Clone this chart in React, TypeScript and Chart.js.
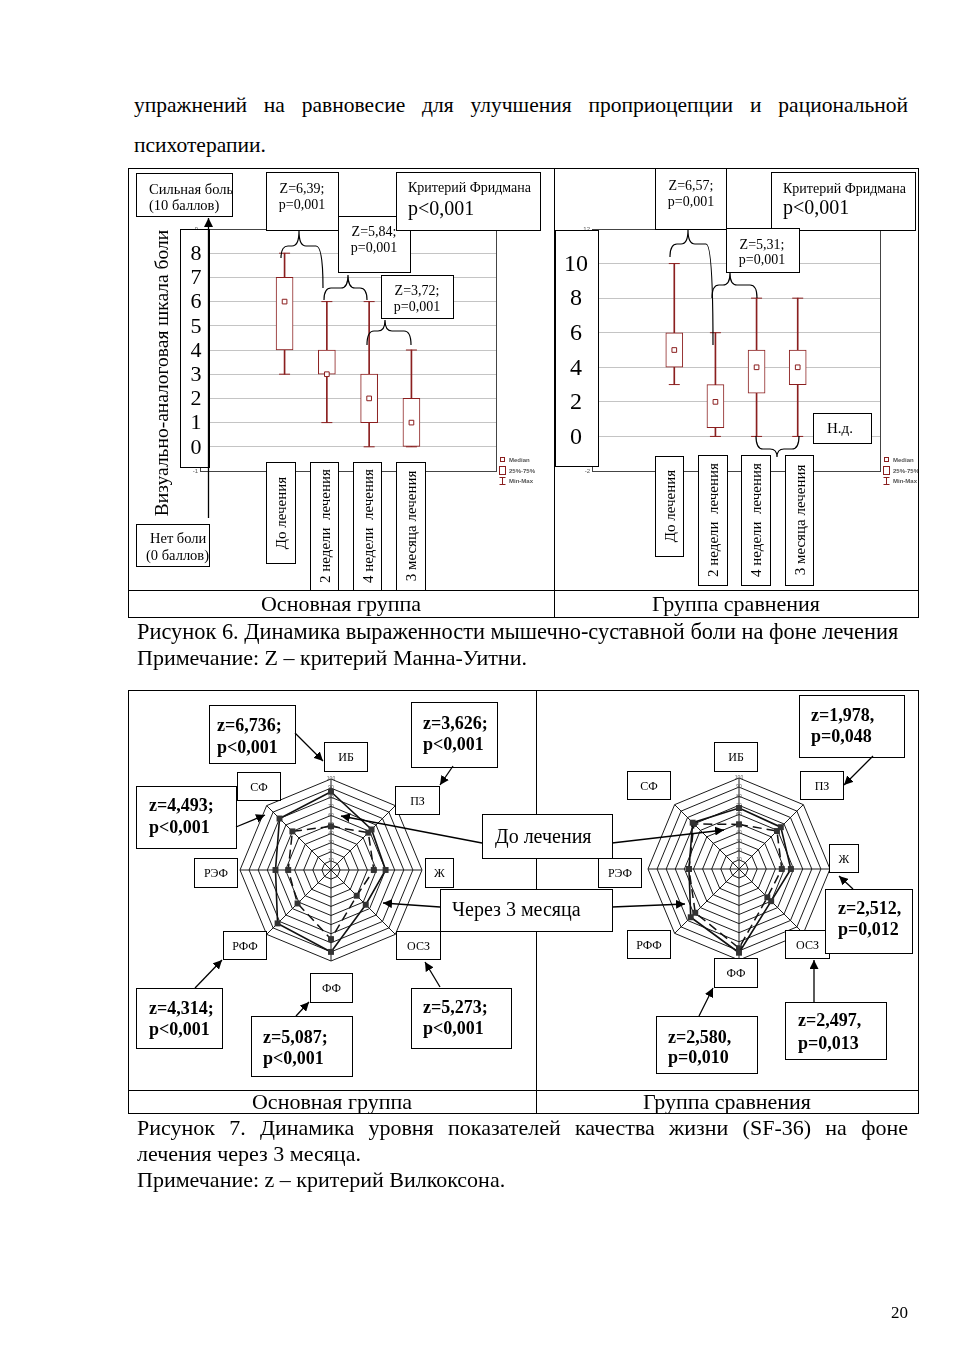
import React, { useEffect, useRef } from "react";
import { Chart, registerables } from "chart.js";

Chart.register(...registerables);

const SERIF = '"Liberation Serif", "Times New Roman", serif';
const SANS = '"Liberation Sans", Arial, sans-serif';
const RED = "#8b1f1f";

// ---------- Figure 6: VAS pain (box plots) ----------
const stageLabels = ["До лечения", "2 недели  лечения", "4 недели  лечения", "3 месяца лечения"];
const stagePositions = [1, 2, 3, 4];

const mainMin = [3, 1, 0, 0];
const mainQ1 = [4, 3, 1, 0];
const mainMedian = [6, 3, 2, 1];
const mainQ3 = [7, 4, 3, 2];
const mainMax = [8, 6, 6, 4];

const compMin = [3, 0, 0, 0];
const compQ1 = [4, 0.5, 2.5, 3];
const compMedian = [5, 2, 4, 4];
const compQ3 = [6, 3, 5, 5];
const compMax = [10, 6, 8, 8];

const mainBigTicks = [0, 1, 2, 3, 4, 5, 6, 7, 8];
const compBigTicks = [0, 2, 4, 6, 8, 10];

// ---------- Figure 7: SF-36 (radar) ----------
const sfLabels = ["ИБ", "ПЗ", "Ж", "ОСЗ", "ФФ", "РФФ", "РЭФ", "СФ"];
const mainBefore = [48, 58, 47, 40, 76, 52, 47, 60];
const mainAfter = [86, 63, 60, 54, 90, 83, 61, 80];
const compBefore = [49, 59, 47, 44, 87, 68, 55, 70];
const compAfter = [67, 65, 57, 50, 92, 75, 55, 72];

function BoxPlot(props: any) {
  const ref = useRef<HTMLCanvasElement>(null);
  useEffect(() => {
    const p = props;
    const decor = {
      id: "boxDecor",
      beforeDatasetsDraw(chart: any) {
        const { ctx, chartArea: a } = chart;
        ctx.save();
        ctx.strokeStyle = "#444";
        ctx.lineWidth = 1;
        ctx.strokeRect(Math.round(a.left) + 0.5, Math.round(a.top) + 0.5, Math.round(a.width), Math.round(a.height));
        ctx.restore();
      },
      afterDraw(chart: any) {
        const { ctx, chartArea: a, scales } = chart;
        const y = scales.y;
        const x1 = Math.round(a.left + p.boxL) + 0.5;
        const x2 = Math.round(a.left + p.boxR) + 0.5;
        const y1 = Math.round(a.top + p.boxT) + 0.5;
        const y2 = Math.round(a.bottom - p.boxB) + 0.5;
        ctx.save();
        ctx.fillStyle = "#fff";
        ctx.fillRect(x1, y1, x2 - x1, y2 - y1);
        ctx.strokeStyle = "#000";
        ctx.lineWidth = 1;
        ctx.strokeRect(x1, y1, x2 - x1, y2 - y1);
        ctx.fillStyle = "#000";
        ctx.font = `${p.bigFont}px ${SERIF}`;
        ctx.textAlign = "center";
        ctx.textBaseline = "middle";
        p.bigTicks.forEach((v: number) => {
          ctx.fillText(String(v), a.left + p.numX, y.getPixelForValue(v) + 1);
        });
        ctx.restore();
      },
    };
    const chart = new Chart(ref.current as HTMLCanvasElement, {
      type: "bar",
      data: {
        datasets: [
          {
            type: "bar",
            label: "Min-Max",
            data: stagePositions.map((x, i) => ({ x, y: [p.mins[i], p.maxs[i]] })),
            backgroundColor: RED,
            borderWidth: 0,
            barThickness: 1,
            grouped: false,
            order: 4,
          } as any,
          {
            type: "scatter",
            label: "caps",
            data: [
              ...stagePositions.map((x, i) => ({ x, y: p.mins[i] })),
              ...stagePositions.map((x, i) => ({ x, y: p.maxs[i] })),
            ],
            pointStyle: "line",
            pointRadius: 5.5,
            pointBorderColor: RED,
            pointBorderWidth: 1,
            order: 3,
          } as any,
          {
            type: "bar",
            label: "25%-75%",
            data: stagePositions.map((x, i) => ({ x, y: [p.q1s[i], p.q3s[i]] })),
            backgroundColor: "#fff",
            borderColor: RED,
            borderWidth: 1,
            borderSkipped: false,
            barThickness: 17,
            grouped: false,
            order: 2,
          } as any,
          {
            type: "scatter",
            label: "Median",
            data: stagePositions.map((x, i) => ({ x, y: p.meds[i] })),
            pointStyle: "rect",
            pointRadius: 3.3,
            pointBackgroundColor: "#fff",
            pointBorderColor: RED,
            pointBorderWidth: 1,
            order: 1,
          } as any,
        ],
      },
      options: {
        responsive: false,
        animation: false,
        layout: { padding: p.padding },
        plugins: { legend: { display: false }, tooltip: { enabled: false } },
        scales: {
          x: { type: "linear", min: -1, max: 6, offset: false, display: false },
          y: {
            type: "linear",
            min: p.yMin,
            max: p.yMax,
            ticks: { stepSize: p.step, color: "#555", font: { size: 6, family: SANS }, padding: 2 },
            grid: { color: "#c4c4c4", drawTicks: false, lineWidth: 1 },
            border: { display: false },
            afterFit: (s: any) => {
              s.width = 12;
            },
          },
        },
      } as any,
      plugins: [decor],
    });
    return () => chart.destroy();
  }, []);
  return (
    <canvas
      ref={ref}
      width={props.w}
      height={props.h}
      style={{ position: "absolute", left: props.left, top: props.top, width: props.w, height: props.h }}
    />
  );
}

function Radar(props: any) {
  const ref = useRef<HTMLCanvasElement>(null);
  useEffect(() => {
    const chart = new Chart(ref.current as HTMLCanvasElement, {
      type: "radar",
      data: {
        labels: sfLabels,
        datasets: [
          {
            label: "До лечения",
            data: props.before,
            borderColor: "#111",
            borderWidth: 1.5,
            borderDash: [9, 5],
            pointStyle: "rect",
            pointRadius: 4.2,
            pointBackgroundColor: "#333",
            pointBorderColor: "#333",
            pointBorderWidth: 0,
            fill: false,
            order: 2,
          },
          {
            label: "Через 3 месяца",
            data: props.after,
            borderColor: "#111",
            borderWidth: 1.6,
            pointStyle: "rect",
            pointRadius: 4.2,
            pointBackgroundColor: "#333",
            pointBorderColor: "#333",
            pointBorderWidth: 0,
            fill: false,
            order: 1,
          },
        ],
      },
      options: {
        responsive: false,
        animation: false,
        layout: { padding: 14 },
        plugins: { legend: { display: false }, tooltip: { enabled: false } },
        elements: { line: { tension: 0 } },
        scales: {
          r: {
            min: 0,
            max: 100,
            ticks: {
              stepSize: 10,
              showLabelBackdrop: false,
              color: "#555",
              font: { size: 5, family: SANS },
            },
            grid: { color: "#1a1a1a", lineWidth: 1 },
            angleLines: { display: true, color: "#1a1a1a", lineWidth: 1 },
            pointLabels: { display: false },
          },
        },
      } as any,
    });
    return () => chart.destroy();
  }, []);
  return (
    <canvas
      ref={ref}
      width={220}
      height={220}
      style={{ position: "absolute", left: props.cx - 110, top: props.cy - 110, width: 220, height: 220 }}
    />
  );
}

// ---------- text helpers ----------
function JLine({ left, right, cy, text, size = 21 }: any) {
  return (
    <div
      style={{
        position: "absolute",
        left,
        width: right - left,
        top: cy - 13,
        height: 26,
        lineHeight: "26px",
        fontSize: size,
        display: "flex",
        justifyContent: "space-between",
        whiteSpace: "pre",
      }}
    >
      {text.split(" ").map((w: string, i: number) => (
        <span key={i}>{w}</span>
      ))}
    </div>
  );
}

function Line({ left, cy, text, size = 21, center }: any) {
  return (
    <div
      style={{
        position: "absolute",
        left: center ? center - 300 : left,
        width: center ? 600 : undefined,
        textAlign: center ? "center" : "left",
        top: cy - 13,
        height: 26,
        lineHeight: "26px",
        fontSize: size,
        whiteSpace: "pre",
      }}
    >
      {text}
    </div>
  );
}

const R = ({ x, y, w, h }: any) => (
  <rect x={x + 0.5} y={y + 0.5} width={w} height={h} fill="#fff" stroke="#000" strokeWidth={1} />
);

const T = ({ x, y, size = 14, bold, anchor = "start", children, fill = "#000", family = SERIF }: any) => (
  <text
    x={x}
    y={y}
    fontSize={size}
    fontFamily={family}
    fontWeight={bold ? "bold" : "normal"}
    textAnchor={anchor}
    dominantBaseline="central"
    fill={fill}
    style={{ whiteSpace: "pre" }}
  >
    {children}
  </text>
);

const VT = ({ cx, cy, size = 15, children }: any) => (
  <text
    transform={`translate(${cx},${cy}) rotate(-90)`}
    fontSize={size}
    fontFamily={SERIF}
    textAnchor="middle"
    dominantBaseline="central"
    style={{ whiteSpace: "pre" }}
  >
    {children}
  </text>
);

const Arrow = ({ x1, y1, x2, y2 }: any) => (
  <line x1={x1} y1={y1} x2={x2} y2={y2} stroke="#000" strokeWidth={1.3} markerEnd="url(#ah)" />
);

const Brace = ({ x1, y1, x2, y2, ym, xt, yt }: any) => {
  const d = `M ${x1} ${y1} Q ${x1} ${ym} ${x1 + 7} ${ym} L ${xt - 7} ${ym} Q ${xt} ${ym} ${xt} ${yt} Q ${xt} ${ym} ${xt + 7} ${ym} L ${x2 - 7} ${ym} Q ${x2} ${ym} ${x2} ${y2}`;
  return <path d={d} fill="none" stroke="#000" strokeWidth={1.2} />;
};

const LegendBP = ({ x }: any) => (
  <g>
    <rect x={x - 1.5} y={457.5} width={4} height={4} fill="#fff" stroke={RED} strokeWidth={1} />
    <T x={x + 7} y={459.5} size={6} family={SANS} fill="#555" bold>
      Median
    </T>
    <rect x={x - 2.5} y={466.5} width={6} height={8} fill="#fff" stroke={RED} strokeWidth={1} />
    <T x={x + 7} y={470.5} size={6} family={SANS} fill="#555" bold>
      25%-75%
    </T>
    <line x1={x + 0.5} y1={477} x2={x + 0.5} y2={485} stroke={RED} strokeWidth={1} />
    <line x1={x - 2.5} y1={477.5} x2={x + 3.5} y2={477.5} stroke={RED} strokeWidth={1} />
    <line x1={x - 2.5} y1={484.5} x2={x + 3.5} y2={484.5} stroke={RED} strokeWidth={1} />
    <T x={x + 7} y={481} size={6} family={SANS} fill="#555" bold>
      Min-Max
    </T>
  </g>
);

const LabelBox = ({ x, y, w, h, t }: any) => (
  <g>
    <R x={x} y={y} w={w} h={h} />
    <T x={x + w / 2 + 0.5} y={y + h / 2 + 0.5} size={12} anchor="middle">
      {t}
    </T>
  </g>
);

const StatBox = ({ x, y, w, h, tx, y1, y2, l1, l2 }: any) => (
  <g>
    <R x={x} y={y} w={w} h={h} />
    <T x={tx} y={y1} size={18} bold>
      {l1}
    </T>
    <T x={tx} y={y2} size={18} bold>
      {l2}
    </T>
  </g>
);

export default function App() {
  return (
    <div
      style={{
        position: "absolute",
        left: 0,
        top: 0,
        width: 954,
        height: 1350,
        overflow: "hidden",
        background: "#fff",
        fontFamily: SERIF,
        color: "#000",
      }}
    >
      <JLine left={134} right={908} cy={105} size={21.5} text="упражнений на равновесие для улучшения проприоцепции и рациональной" />
      <Line left={134} cy={145} size={21.5} text="психотерапии." />

      <BoxPlot
        left={128}
        top={168}
        w={426}
        h={422}
        padding={{ left: 60, top: 61, right: 58, bottom: 119 }}
        mins={mainMin}
        q1s={mainQ1}
        meds={mainMedian}
        q3s={mainQ3}
        maxs={mainMax}
        yMin={-1}
        yMax={9}
        step={1}
        bigTicks={mainBigTicks}
        bigFont={22}
        boxL={-20}
        boxR={9}
        boxT={0}
        boxB={4}
        numX={-4}
      />
      <BoxPlot
        left={554}
        top={168}
        w={364}
        h={422}
        padding={{ left: 26, top: 61, right: 38, bottom: 119 }}
        mins={compMin}
        q1s={compQ1}
        meds={compMedian}
        q3s={compQ3}
        maxs={compMax}
        yMin={-2}
        yMax={12}
        step={2}
        bigTicks={compBigTicks}
        bigFont={24}
        boxL={-37}
        boxR={6}
        boxT={1}
        boxB={5}
        numX={-16}
      />

      <Radar cx={331} cy={870} before={mainBefore} after={mainAfter} />
      <Radar cx={739} cy={869} before={compBefore} after={compAfter} />

      <svg
        width={954}
        height={1350}
        style={{ position: "absolute", left: 0, top: 0, pointerEvents: "none" }}
      >
        <defs>
          <marker id="ah" viewBox="0 0 10 10" refX="10" refY="5" markerWidth="9" markerHeight="9" markerUnits="userSpaceOnUse" orient="auto">
            <path d="M0,0 L10,5 L0,10 z" fill="#000" />
          </marker>
          <clipPath id="cellR">
            <rect x={554} y={168} width={364} height={422} />
          </clipPath>
        </defs>

        {/* ---------- Table 1 ---------- */}
        <rect x={128.5} y={168.5} width={790} height={449} fill="none" stroke="#000" strokeWidth={1} />
        <line x1={128} y1={590.5} x2={918} y2={590.5} stroke="#000" strokeWidth={1} />
        <line x1={554.5} y1={168} x2={554.5} y2={617} stroke="#000" strokeWidth={1} />

        {/* left box plot annotations */}
        <R x={136} y={173} w={96} h={43} />
        <T x={149} y={189} size={14.5}>Сильная боль</T>
        <T x={149} y={205} size={14.5}>(10 баллов)</T>
        <Arrow x1={208.5} y1={518} x2={208.5} y2={218} />
        <R x={136} y={524} w={73} h={42} />
        <T x={150} y={538} size={14.5}>Нет боли</T>
        <T x={146} y={555} size={14.5}>(0 баллов)</T>
        <VT cx={161} cy={373} size={19.5}>Визуально-аналоговая шкала боли</VT>

        <R x={266} y={172} w={72} h={58} />
        <T x={302} y={188} size={14} anchor="middle">Z=6,39;</T>
        <T x={302} y={204} size={14} anchor="middle">p=0,001</T>
        <R x={338} y={216} w={72} h={56} />
        <T x={374} y={231} size={14} anchor="middle">Z=5,84;</T>
        <T x={374} y={247} size={14} anchor="middle">p=0,001</T>
        <R x={396} y={172} w={144} h={58} />
        <T x={408} y={187} size={14}>Критерий Фридмана</T>
        <T x={408} y={208} size={20}>p&lt;0,001</T>
        <R x={381} y={275} w={72} h={43} />
        <T x={417} y={290} size={14} anchor="middle">Z=3,72;</T>
        <T x={417} y={306} size={14} anchor="middle">p=0,001</T>

        <Brace x1={281} y1={258} x2={323} y2={288} ym={246} xt={299} yt={231} />
        <Brace x1={324} y1={300} x2={367} y2={300} ym={288} xt={348} yt={275} />
        <Brace x1={367} y1={345} x2={411} y2={345} ym={331} xt={385} yt={320} />

        <R x={266} y={462} w={29} h={101} />
        <VT cx={281} cy={513}>{stageLabels[0]}</VT>
        <R x={310} y={462} w={28} h={128} />
        <VT cx={324.5} cy={526}>{stageLabels[1]}</VT>
        <R x={353} y={462} w={28} h={128} />
        <VT cx={367.5} cy={526}>{stageLabels[2]}</VT>
        <R x={396} y={462} w={29} h={128} />
        <VT cx={411} cy={526}>{stageLabels[3]}</VT>
        <LegendBP x={502} />

        {/* right box plot annotations */}
        <R x={655} y={168} w={71} h={61} />
        <T x={691} y={185} size={14} anchor="middle">Z=6,57;</T>
        <T x={691} y={201} size={14} anchor="middle">p=0,001</T>
        <R x={771} y={172} w={144} h={58} />
        <T x={783} y={188} size={14}>Критерий Фридмана</T>
        <T x={783} y={207} size={20}>p&lt;0,001</T>
        <R x={726} y={228} w={73} h={44} />
        <T x={762} y={244} size={14} anchor="middle">Z=5,31;</T>
        <T x={762} y={259} size={14} anchor="middle">p=0,001</T>
        <R x={813} y={413} w={58} h={30} />
        <T x={840} y={428} size={15} anchor="middle">Н.д.</T>

        <Brace x1={670} y1={257} x2={713} y2={345} ym={244} xt={688} yt={230} />
        <Brace x1={712} y1={298} x2={757} y2={298} ym={285} xt={730} yt={273} />
        <Brace x1={756} y1={436} x2={799} y2={436} ym={449} xt={777} yt={457} />

        <R x={655} y={456} w={28} h={100} />
        <VT cx={669.5} cy={506}>{stageLabels[0]}</VT>
        <R x={698} y={455} w={29} h={130} />
        <VT cx={713} cy={520}>{stageLabels[1]}</VT>
        <R x={741} y={455} w={29} h={130} />
        <VT cx={756} cy={520}>{stageLabels[2]}</VT>
        <R x={785} y={455} w={28} h={130} />
        <VT cx={799.5} cy={520}>{stageLabels[3]}</VT>
        <g clipPath="url(#cellR)">
          <LegendBP x={886} />
        </g>

        {/* ---------- Table 2 ---------- */}
        <rect x={128.5} y={690.5} width={790} height={423} fill="none" stroke="#000" strokeWidth={1} />
        <line x1={128} y1={1090.5} x2={918} y2={1090.5} stroke="#000" strokeWidth={1} />
        <line x1={536.5} y1={690} x2={536.5} y2={1113} stroke="#000" strokeWidth={1} />

        {/* left radar labels */}
        <LabelBox x={324} y={742} w={43} h={29} t="ИБ" />
        <LabelBox x={395} y={786} w={44} h={28} t="ПЗ" />
        <LabelBox x={425} y={858} w={28} h={29} t="Ж" />
        <LabelBox x={396} y={931} w={44} h={28} t="ОСЗ" />
        <LabelBox x={310} y={973} w={42} h={29} t="ФФ" />
        <LabelBox x={223} y={931} w={43} h={28} t="РФФ" />
        <LabelBox x={194} y={858} w={43} h={29} t="РЭФ" />
        <LabelBox x={237} y={772} w={43} h={28} t="СФ" />

        <StatBox x={209} y={705} w={86} h={58} tx={217} y1={725} y2={747} l1="z=6,736;" l2="p<0,001" />
        <StatBox x={411} y={702} w={86} h={65} tx={423} y1={723} y2={744} l1="z=3,626;" l2="p<0,001" />
        <StatBox x={136} y={786} w={100} h={62} tx={149} y1={805} y2={827} l1="z=4,493;" l2="p<0,001" />
        <StatBox x={136} y={988} w={86} h={60} tx={149} y1={1008} y2={1029} l1="z=4,314;" l2="p<0,001" />
        <StatBox x={251} y={1016} w={101} h={60} tx={263} y1={1037} y2={1058} l1="z=5,087;" l2="p<0,001" />
        <StatBox x={411} y={988} w={100} h={60} tx={423} y1={1007} y2={1028} l1="z=5,273;" l2="p<0,001" />

        <Arrow x1={295} y1={733} x2={323} y2={761} />
        <Arrow x1={453} y1={766} x2={440} y2={785} />
        <Arrow x1={236} y1={827} x2={265} y2={815} />
        <Arrow x1={195} y1={988} x2={222} y2={960} />
        <Arrow x1={296} y1={1016} x2={309} y2={1002} />
        <Arrow x1={440} y1={987} x2={425} y2={962} />

        {/* right radar labels */}
        <LabelBox x={714} y={742} w={43} h={29} t="ИБ" />
        <LabelBox x={800} y={771} w={43} h={28} t="ПЗ" />
        <LabelBox x={829} y={844} w={29} h={28} t="Ж" />
        <LabelBox x={785} y={930} w={44} h={28} t="ОСЗ" />
        <LabelBox x={714} y={958} w={43} h={29} t="ФФ" />
        <LabelBox x={627} y={930} w={43} h={28} t="РФФ" />
        <LabelBox x={598} y={858} w={43} h={29} t="РЭФ" />
        <LabelBox x={627} y={771} w={43} h={28} t="СФ" />

        <StatBox x={799} y={695} w={105} h={62} tx={811} y1={715} y2={736} l1="z=1,978," l2="p=0,048" />
        <StatBox x={825} y={889} w={87} h={64} tx={838} y1={908} y2={929} l1="z=2,512," l2="p=0,012" />
        <StatBox x={656} y={1016} w={101} h={57} tx={668} y1={1037} y2={1057} l1="z=2,580," l2="p=0,010" />
        <StatBox x={785} y={1002} w={101} h={57} tx={798} y1={1020} y2={1043} l1="z=2,497," l2="p=0,013" />

        <Arrow x1={873} y1={756} x2={844} y2={785} />
        <Arrow x1={853} y1={889} x2={839} y2={876} />
        <Arrow x1={699} y1={1016} x2={713} y2={988} />
        <Arrow x1={814} y1={1002} x2={814} y2={960} />

        {/* centre legend boxes */}
        <R x={482} y={814} w={130} h={44} />
        <T x={495} y={836} size={20}>До лечения</T>
        <Arrow x1={482} y1={843} x2={341} y2={816} />
        <Arrow x1={612} y1={843} x2={724} y2={830} />
        <R x={440} y={889} w={172} h={42} />
        <T x={452} y={909} size={20}>Через 3 месяца</T>
        <Arrow x1={440} y1={907} x2={383} y2={903} />
        <Arrow x1={612} y1={907} x2={685} y2={904} />
      </svg>

      <Line center={341} cy={604} size={22} text="Основная группа" />
      <Line center={736} cy={604} size={22} text="Группа сравнения" />
      <Line left={137} cy={632} size={22.4} text="Рисунок 6. Динамика выраженности мышечно-суставной боли на фоне лечения" />
      <Line left={137} cy={658} size={22} text="Примечание: Z – критерий Манна-Уитни." />

      <Line center={332} cy={1102} size={22} text="Основная группа" />
      <Line center={727} cy={1102} size={22} text="Группа сравнения" />
      <JLine left={137} right={908} cy={1128} size={22} text="Рисунок 7. Динамика уровня показателей качества жизни (SF-36) на фоне" />
      <Line left={137} cy={1154} size={22} text="лечения через 3 месяца." />
      <Line left={137} cy={1180} size={22} text="Примечание: z – критерий Вилкоксона." />

      <div style={{ position: "absolute", left: 858, width: 50, textAlign: "right", top: 1302, fontSize: 17, lineHeight: "22px" }}>20</div>
    </div>
  );
}
